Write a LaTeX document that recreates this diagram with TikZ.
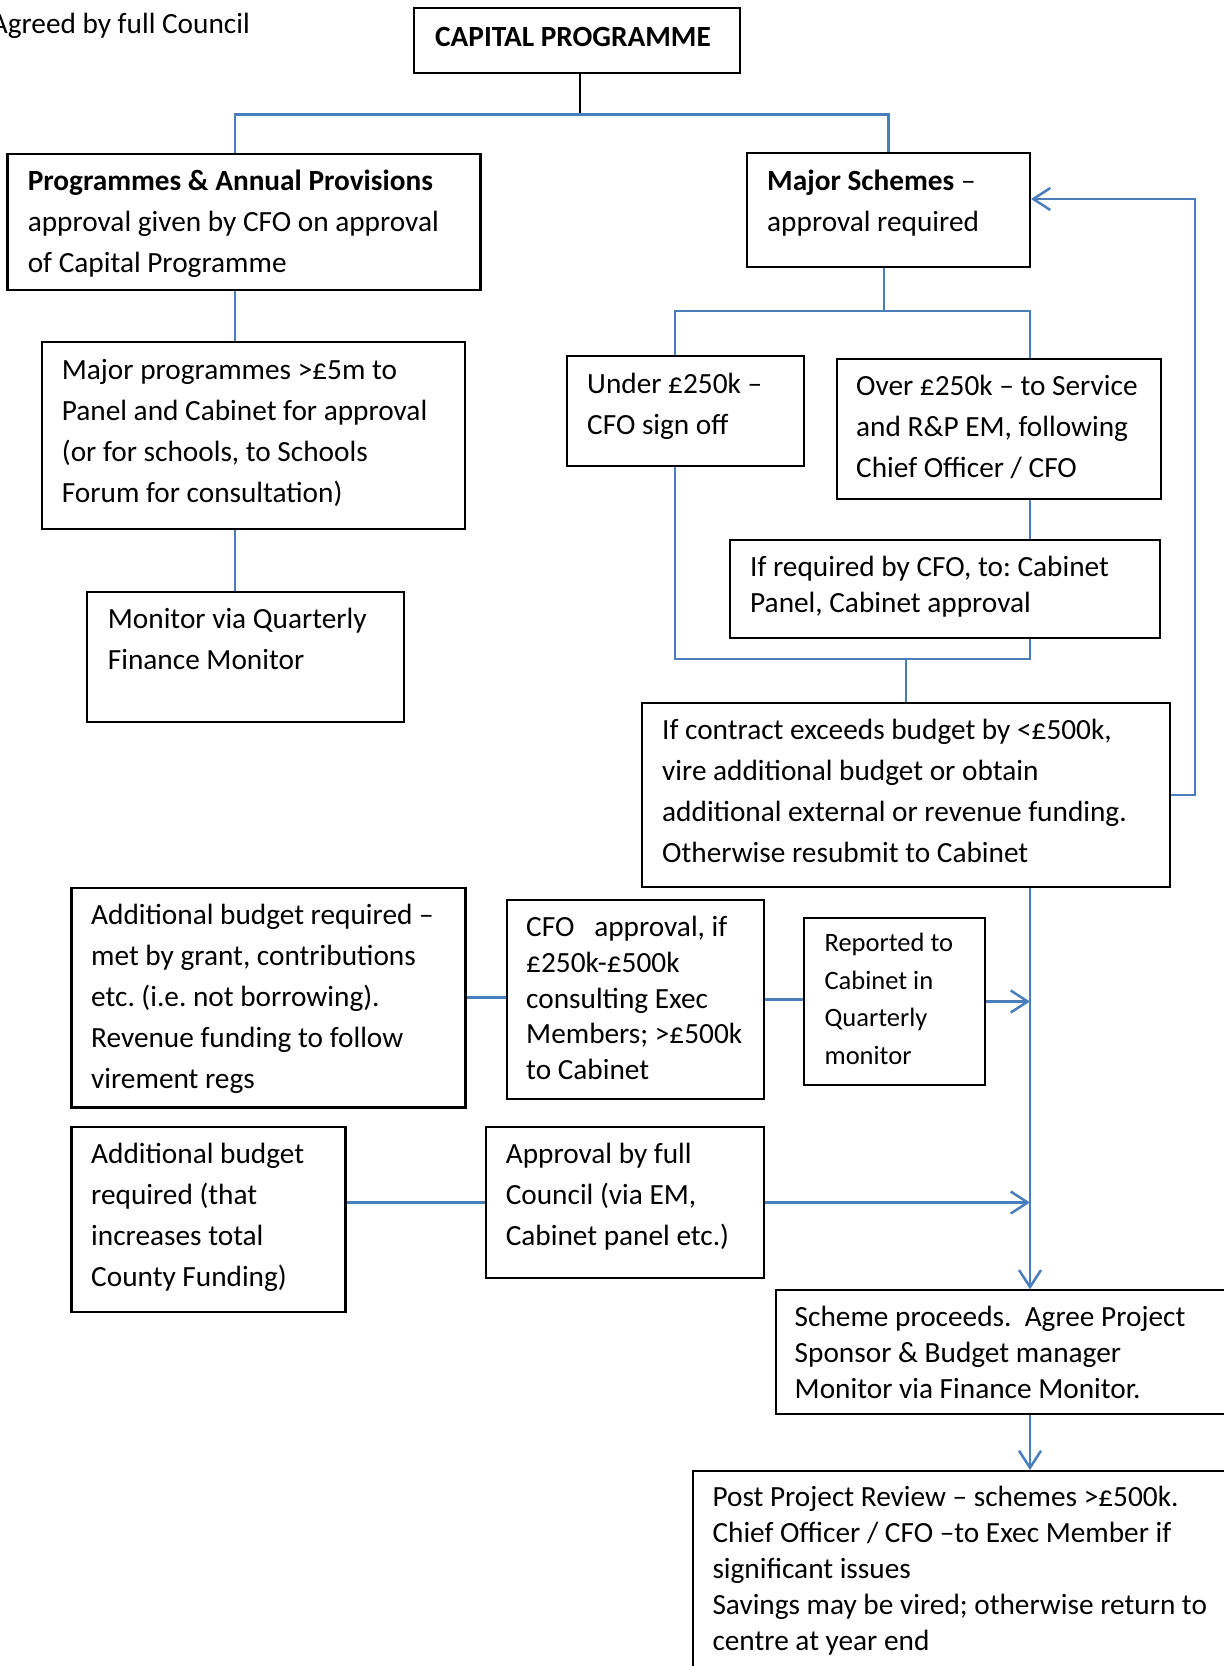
\documentclass[tikz,border=0pt]{standalone}
\usepackage{fontspec}
\setmainfont{Carlito}
\usepackage{xcolor}
\usepackage{tikz}
\usetikzlibrary{arrows.meta}
\definecolor{linkblue}{RGB}{74,126,187}
\frenchspacing

\begin{document}
\begin{tikzpicture}[x=1pt,y=-1pt,
    box/.style={draw, line width=2pt, inner sep=0pt, anchor=north west},
    txt/.style={inner sep=0pt, anchor=base west, text width=520pt,
      font=\fontsize{29.3}{41}\selectfont,
      execute at begin node={\spaceskip=0pt\xspaceskip=0pt\relax}},
    txtsingle/.style={txt, font=\fontsize{29.3}{36}\selectfont},
    txtsmall/.style={txt, font=\fontsize{26.5}{37.5}\selectfont},
    blackline/.style={draw=black, line width=2pt},
    blueline/.style={draw=linkblue, line width=2.5pt},
    bluearrow/.style={blueline, -{Straight Barb[length=17pt,width=22pt]}}]
    \useasboundingbox (0,0) rectangle (1224,1666);
    %
    \node[inner sep=0pt, anchor=base east, font=\fontsize{29.3}{41}\selectfont] (agreed) at (250,33) {Agreed by full Council};
    \node[box, minimum width=326pt, minimum height=65pt] (cap) at (413,7) {};
    \node[txt, font=\fontsize{29.3}{41}\selectfont\bfseries] (cap-t) at (435,46) {CAPITAL PROGRAMME};
    %
    \node[box, line width=2.5pt, minimum width=473pt, minimum height=136pt] (prog) at (6,152.5) {};
    \node[txt] (prog-t) at (27.6,190.7) {{\bfseries Programmes \& Annual Provisions}\\approval given by CFO on approval\\of Capital Programme};
    \node[box, minimum width=283pt, minimum height=114pt] (major) at (746,152) {};
    \node[txt] (major-t) at (767,190) {{\bfseries Major Schemes} –\\approval required};
    %
    \node[box, minimum width=423.6pt, minimum height=187.3pt] (majprog) at (40.7,341) {};
    \node[txt] (majprog-t) at (61.7,379) {Major programmes >£5m to\\Panel and Cabinet for approval\\(or for schools, to Schools\\Forum for consultation)};
    \node[box, minimum width=316.4pt, minimum height=130pt] (mon) at (86.3,591) {};
    \node[txt] (mon-t) at (107.7,628.3) {Monitor via Quarterly\\Finance Monitor};
    %
    \node[box, minimum width=237pt, minimum height=110pt] (under) at (566,355) {};
    \node[txt] (under-t) at (587,393) {Under £250k –\\CFO sign off};
    \node[box, minimum width=324.4pt, minimum height=140pt] (over) at (836,358) {};
    \node[txt] (over-t) at (856,395.7) {Over £250k – to Service\\and R\&P EM, following\\Chief Officer / CFO};
    \node[box, minimum width=430.4pt, minimum height=98pt] (ifreq) at (729,539.3) {};
    \node[txtsingle] (ifreq-t) at (750,576) {If required by CFO, to: Cabinet\\Panel, Cabinet approval};
    \node[box, minimum width=528.3pt, minimum height=183.7pt] (contract) at (641,702.3) {};
    \node[txt] (contract-t) at (662,739.3) {If contract exceeds budget by <£500k,\\vire additional budget or obtain\\additional external or revenue funding.\\Otherwise resubmit to Cabinet};
    %
    \node[box, line width=2.5pt, minimum width=394pt, minimum height=219.3pt] (add1) at (70,886.7) {};
    \node[txt] (add1-t) at (91,924.3) {Additional budget required –\\met by grant, contributions\\etc. (i.e. not borrowing).\\Revenue funding to follow\\virement regs};
    \node[box, minimum width=257pt, minimum height=198.7pt] (cfo) at (505.6,899.3) {};
    \node[txt, font=\fontsize{29.3}{35.7}\selectfont] (cfo-t) at (526,936.7) {CFO\ \ \ approval, if\\£250k-£500k\\consulting Exec\\Members; >£500k\\to Cabinet};
    \node[box, minimum width=180.6pt, minimum height=167.6pt] (rep) at (803.4,916.7) {};
    \node[txtsmall] (rep-t) at (824.4,951.7) {Reported to\\Cabinet in\\Quarterly\\monitor};
    \node[box, line width=2.5pt, minimum width=274pt, minimum height=185pt] (add2) at (70,1125.7) {};
    \node[txt] (add2-t) at (91,1163.3) {Additional budget\\required (that\\increases total\\County Funding)};
    \node[box, minimum width=278.1pt, minimum height=151.6pt] (appr) at (484.5,1125.7) {};
    \node[txt] (appr-t) at (505.6,1163.3) {Approval by full\\Council (via EM,\\Cabinet panel etc.)};
    %
    \node[box, minimum width=480pt, minimum height=124pt] (scheme) at (774.7,1289.3) {};
    \node[txtsingle] (scheme-t) at (794.5,1326) {Scheme proceeds.\ \ Agree Project\\Sponsor \& Budget manager\\Monitor via Finance Monitor.};
    \node[box, minimum width=560pt, minimum height=260pt] (post) at (692,1470) {};
    \node[txtsingle] (post-t) at (712.3,1506.7) {Post Project Review – schemes >£500k.\\Chief Officer / CFO –to Exec Member if\\significant issues\\Savings may be vired; otherwise return to\\centre at year end};
    %
    \coordinate (capjoin) at (580,114.7);
    \coordinate (lcol) at (235,0);
    \coordinate (ucol) at (675,0);
    \coordinate (mcol) at (1030,0);
    \coordinate (mjoin) at (884,311);
    \coordinate (cjoin) at (906,659);
    \coordinate (fb) at (1195,199);
    %
    \draw[blackline] (cap.south -| capjoin) -- (capjoin);
    \draw[blueline] (prog.north -| lcol) |- (capjoin) -| (major.north);
    \draw[blueline] (prog.south -| lcol) -- (majprog.north -| lcol);
    \draw[blueline] (majprog.south -| lcol) -- (mon.north -| lcol);
    \draw[blueline] (major.south -| mjoin) -- (mjoin);
    \draw[blueline] (under.north -| ucol) |- (mjoin) -| (over.north -| mcol);
    \draw[blueline] (over.south -| mcol) -- (ifreq.north -| mcol);
    \draw[blueline] (under.south -| ucol) |- (cjoin) -| (ifreq.south -| mcol);
    \draw[blueline] (cjoin) -- (contract.north -| cjoin);
    \draw[bluearrow] (contract.east) -| (fb) -- (major.east |- fb);
    \draw[bluearrow] (contract.south -| mcol) -- (scheme.north -| mcol);
    \draw[blueline] (add1.east) -- (add1.east -| cfo.west);
    \draw[blueline] (cfo.east) -- (cfo.east -| rep.west);
    \draw[bluearrow] (rep.east) -- (rep.east -| mcol);
    \draw[blueline] (add2.east |- appr.west) -- (appr.west);
    \draw[bluearrow] (appr.east) -- (appr.east -| mcol);
    \draw[bluearrow] (scheme.south -| mcol) -- (post.north -| mcol);
\end{tikzpicture}
\end{document}
